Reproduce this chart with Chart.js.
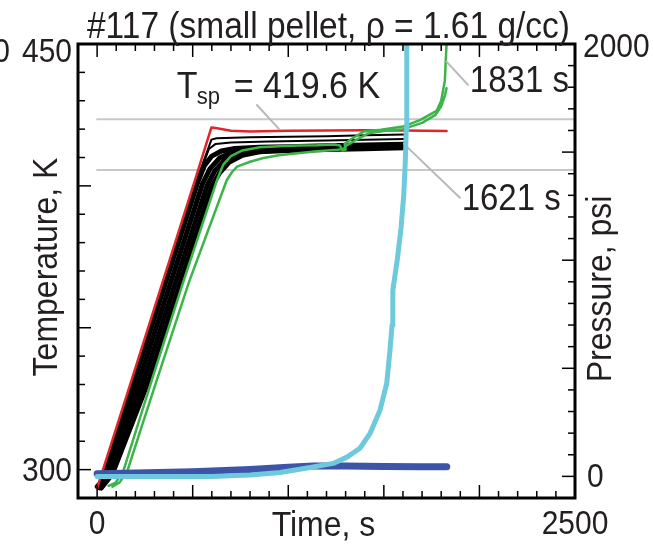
<!DOCTYPE html>
<html>
<head>
<meta charset="utf-8">
<title>#117 small pellet</title>
<script src="https://cdn.jsdelivr.net/npm/chart.js@4"></script>
<style>
  html, body { margin: 0; padding: 0; background: #fff; }
  #chart { display: block; }
</style>
</head>
<body>
<canvas id="chart" width="653" height="546"></canvas>
<script>
const titleText = "#117 (small pellet, \u03c1 = 1.61 g/cc)";
const xTitle = "Time, s";
const yTitle = "Temperature, K";
const y2Title = "Pressure, psi";
const xTickLabels = [0, 2500];
const yTickLabels = [300, 450];
const y2TickLabels = [0, 2000];

// temperature traces, [time s, temperature K]
const redTemp = [[0,293.5],[181,331.7],[512,402],[598,420.6],[620,420.4],[700,419.4],[800,419.2],
  [1000,419.4],[1200,419.5],[1400,419.6],[1600,419.5],[1828,419.3]];
const blackThin1 = [[0,294],[20,296],[190,331.5],[521,402],[598,416.3],[625,416.8],[800,417.1],
  [1000,417.3],[1200,417.5],[1400,417.8],[1607,418.1]];
const blackThin2 = [[0,293.8],[25,296.5],[193,331.5],[523,401.5],[585,413],[620,414.8],[700,415.3],
  [900,415.6],[1200,416],[1607,416.5]];
const blackA = [[0,294],[20,295.5],[195,331.5],[525,401],[560,407],[600,410.5],[650,412.3],[720,413.2],
  [850,413.6],[1000,413.8],[1200,414.1],[1400,414.4],[1607,414.7]];
const blackB = [[5,293.8],[40,296.5],[220,331.5],[550,400.5],[590,406],[640,409.8],[700,411.8],[780,412.8],
  [900,413.2],[1100,413.5],[1300,413.8],[1500,414.1],[1607,414.3]];
const blackC = [[12,293.6],[60,297.5],[245,331.5],[575,400],[615,405.2],[665,409],[730,411.3],[820,412.4],
  [950,412.9],[1150,413.2],[1350,413.5],[1607,413.8]];
const blackD = [[22,293.5],[80,298.5],[270,331.5],[598,399.5],[640,404.5],[690,408.3],[760,410.8],[850,412],
  [1000,412.5],[1200,412.8],[1400,413.1],[1607,413.4]];
const greenA = [[60,294.3],[95,295.3],[135,299],[200,313],[287,331.7],[450,366],[627,402],[660,407.5],[700,410.5],
  [760,412.5],[850,413.6],[950,414],[1050,414.2],[1150,414.3],[1240,414.6],[1270,414.2],[1285,412.5],
  [1300,412.8],[1295,414.8],[1330,416.5],[1396,419.2],[1485,419.8],[1600,420.9],[1689,423.2],[1776,426.4],
  [1800,430],[1819,437],[1828,450],[1832,460]];
const greenB = [[80,294],[118,295.5],[158,299.5],[225,313.5],[313,331.7],[480,366],[678,402],[705,404.8],
  [732,406.8],[800,408.5],[870,409.8],[950,410.8],[1047,411.5],[1150,412.2],[1257,412.7],[1290,413],
  [1300,414],[1350,416],[1420,418.5],[1500,419.3],[1600,420],[1700,422.2],[1770,425],[1800,428],
  [1820,432],[1828,434.4]];

// pressure traces, [time s, pressure psi]
const bluePress = [[0,12],[200,16],[500,22],[800,32],[1000,42],[1130,48],[1300,48],[1500,46],[1700,45],[1829,45]];
const cyanPress = [[0,-1],[300,-1],[600,0],[800,6],[957,18],[1130,43],[1235,60],[1307,89],[1375,130],
  [1428,199],[1480,306],[1515,430],[1532,583],[1543,700],[1547,860],[1570,1000],[1590,1150],[1604,1300],
  [1612,1450],[1617,1600],[1619,1800],[1620,2000],[1621,2100]];

// gray reference levels, K
const refLevels = [423.5, 405.6];

// annotations: text, anchor [t, T], leader [[t,T],[t,T]]
const notes = [
  { text: "1831 s", at: [1950, 433.1], leader: [[1828, 443.8], [1940, 435.6]] },
  { text: "1621 s", at: [1907, 391.5], leader: [[1605, 414.8], [1898, 395.8]] },
];
const tspNote = { main: "T", sub: "sp", rest: "= 419.6 K", at: [416, 431], leader: [[836, 428.5], [951, 420.1]] };

const FONT = '"Liberation Sans", Arial, Helvetica, sans-serif';
const TEXT = "#231f20";

function series(pts, color, width, axis, order) {
  return {
    data: pts.map(p => ({ x: p[0], y: p[1] })),
    borderColor: color,
    backgroundColor: color,
    borderWidth: width,
    showLine: true,
    pointRadius: 0,
    tension: 0,
    yAxisID: axis,
    order: order,
    borderCapStyle: "round",
    borderJoinStyle: "round",
  };
}

const datasets = [
  series(cyanPress, "#6dc9db", 5, "y2", 0),
  series(bluePress, "#3d55a8", 7, "y2", 1),
  series(greenA, "#3cb44a", 2.5, "y", 2),
  series(greenB, "#3cb44a", 2.5, "y", 2),
  series(redTemp, "#e0262b", 2.5, "y", 3),
  series(blackThin1, "#000", 2, "y", 4),
  series(blackThin2, "#000", 2, "y", 4),
  series(blackA, "#000", 5, "y", 4),
  series(blackB, "#000", 5, "y", 4),
  series(blackC, "#000", 5, "y", 4),
  series(blackD, "#000", 5, "y", 4),
];
refLevels.forEach(v => datasets.push(series([[0, v], [2500, v]], "#c8c8c8", 2, "y", 9)));
[...notes.map(n => n.leader), tspNote.leader].forEach(l =>
  datasets.push(series(l, "#b8b8b8", 2, "y", 1)));

function txt(ctx, s, x, y, size, align, rot) {
  ctx.save();
  ctx.translate(x, y);
  if (rot) ctx.rotate(rot);
  ctx.scale(1, 1.1);
  ctx.font = size + "px " + FONT;
  ctx.fillStyle = TEXT;
  ctx.textAlign = align;
  ctx.textBaseline = "alphabetic";
  ctx.fillText(s, 0, 0);
  ctx.restore();
}

const framePlugin = {
  id: "frame",
  afterDatasetsDraw(chart) {
    const { ctx, chartArea: a, scales } = chart;
    const x = scales.x, y = scales.y, y2 = scales.y2;
    ctx.save();
    ctx.strokeStyle = "#000";
    ctx.lineCap = "butt";

    // inward ticks
    ctx.lineWidth = 1.5;
    for (let t = 0; t < 2500; t += 100) {
      const px = x.getPixelForValue(t);
      const len = t % 500 === 0 ? 13 : 7;
      ctx.beginPath();
      ctx.moveTo(px, a.bottom); ctx.lineTo(px, a.bottom - len);
      ctx.moveTo(px, a.top); ctx.lineTo(px, a.top + len);
      ctx.stroke();
    }
    for (let v = 300; v < 450; v += 10) {
      const py = y.getPixelForValue(v);
      const len = v % 50 === 0 ? 13 : 7;
      ctx.beginPath();
      ctx.moveTo(a.left, py); ctx.lineTo(a.left + len, py);
      ctx.stroke();
    }
    for (let v = 0; v < 2000; v += 100) {
      const py = y2.getPixelForValue(v);
      const len = v % 500 === 0 ? 13 : 7;
      ctx.beginPath();
      ctx.moveTo(a.right, py); ctx.lineTo(a.right - len, py);
      ctx.stroke();
    }

    // frame
    ctx.lineWidth = 3;
    ctx.strokeRect(a.left, a.top, a.right - a.left, a.bottom - a.top);
    ctx.restore();

    // tick labels
    xTickLabels.forEach(v => txt(ctx, String(v), x.getPixelForValue(v), 534, 30, "center"));
    txt(ctx, String(yTickLabels[0]), a.left - 6, y.getPixelForValue(yTickLabels[0]) + 11, 30, "right");
    txt(ctx, String(yTickLabels[1]), a.left - 6, y.getPixelForValue(yTickLabels[1]) + 18, 30, "right");
    txt(ctx, String(y2TickLabels[0]), a.right + 12, y2.getPixelForValue(y2TickLabels[0]) + 11, 30, "left");
    txt(ctx, String(y2TickLabels[1]), a.right + 8, y2.getPixelForValue(y2TickLabels[1]) + 13, 30, "left");
    // edge of the neighbouring panel's axis label
    txt(ctx, "2000", 10, y.getPixelForValue(450) + 18, 30, "right");

    // titles
    txt(ctx, titleText, (a.left + a.right) / 2 + 2, 38, 33.5, "center");
    txt(ctx, xTitle, (a.left + a.right) / 2 - 3, 536, 32, "center");
    txt(ctx, yTitle, 57, (a.top + a.bottom) / 2 - 4, 32, "center", -Math.PI / 2);
    txt(ctx, y2Title, 611, (a.top + a.bottom) / 2 + 18, 32, "center", -Math.PI / 2);

    // annotations
    notes.forEach(n => txt(ctx, n.text, x.getPixelForValue(n.at[0]), y.getPixelForValue(n.at[1]), 33, "left"));
    const tx = x.getPixelForValue(tspNote.at[0]), ty = y.getPixelForValue(tspNote.at[1]);
    txt(ctx, tspNote.main, tx, ty, 34, "left");
    txt(ctx, tspNote.sub, tx + 20, ty + 6, 22, "left");
    txt(ctx, tspNote.rest, tx + 57, ty, 34, "left");
  },
};

new Chart(document.getElementById("chart"), {
  type: "scatter",
  data: { datasets },
  options: {
    responsive: false,
    animation: false,
    devicePixelRatio: 1,
    layout: { padding: { left: 78, right: 78, top: 44, bottom: 48 } },
    plugins: { legend: { display: false }, title: { display: false }, tooltip: { enabled: false } },
    scales: {
      x: { type: "linear", min: -100, max: 2500, display: false },
      y: { type: "linear", position: "left", min: 290, max: 450, display: false },
      y2: { type: "linear", position: "right", min: -100, max: 2000, display: false },
    },
  },
  plugins: [framePlugin],
});
</script>
</body>
</html>
